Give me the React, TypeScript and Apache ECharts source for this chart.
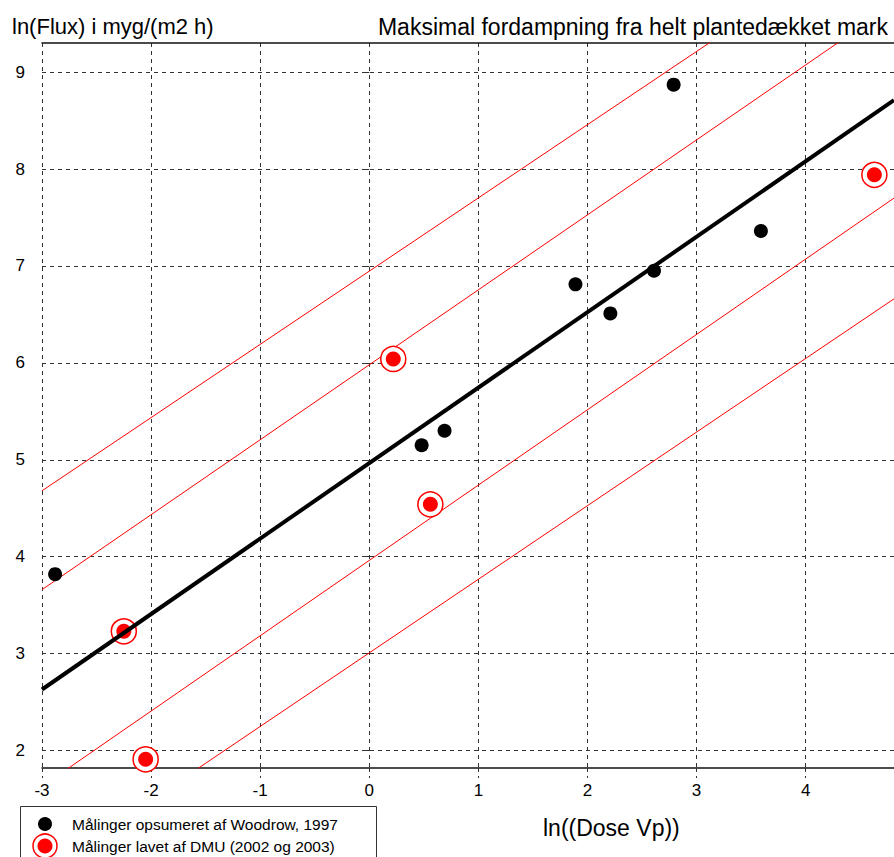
import React, { useEffect, useRef } from "react";
import * as echarts from "echarts";

const xTicks = [-3, -2, -1, 0, 1, 2, 3, 4];
const yTicks = [2, 3, 4, 5, 6, 7, 8, 9];

const woodrow = [
  [-2.88, 3.82],
  [0.48, 5.15],
  [0.69, 5.3],
  [1.89, 6.81],
  [2.21, 6.51],
  [2.61, 6.95],
  [2.79, 8.87],
  [3.59, 7.36],
];

const dmu = [
  [-2.25, 3.23],
  [-2.05, 1.91],
  [0.22, 6.04],
  [0.56, 4.54],
  [4.63, 7.94],
];

const regression = [
  [-3, 2.63],
  [4.81, 8.71],
];

const bandUpper2 = [
  [-3, 4.68],
  [4.81, 10.58],
];
const bandUpper1 = [
  [-3, 3.66],
  [4.81, 9.7],
];
const bandLower1 = [
  [-3, 1.63],
  [4.81, 7.7],
];
const bandLower2 = [
  [-3, 0.73],
  [4.81, 6.66],
];

const titleLeft = "ln(Flux) i myg/(m2 h)";
const titleRight = "Maksimal fordampning fra helt plantedækket mark";
const xName = "ln((Dose Vp))";
const legendWoodrow = "Målinger opsumeret af Woodrow, 1997";
const legendDmu = "Målinger lavet af DMU (2002 og 2003)";

const FONT = "'Liberation Sans', Arial, sans-serif";

export default function App() {
  const ref = useRef<HTMLDivElement>(null);

  useEffect(() => {
    if (!ref.current) return;
    const chart = echarts.init(ref.current, null, { renderer: "svg" });
    const gridDash = { color: "#333", width: 1, type: [4, 4] as any };
    const redLine = (data: number[][]) => ({
      type: "line",
      data,
      showSymbol: false,
      symbol: "none",
      lineStyle: { color: "#ff0000", width: 1 },
      silent: true,
      z: 2,
    });
    chart.setOption({
      animation: false,
      backgroundColor: "#fff",
      title: [
        {
          text: titleLeft,
          left: 12,
          top: 15,
          padding: 0,
          textStyle: { fontSize: 22, fontWeight: "normal", color: "#000", fontFamily: FONT },
        },
        {
          text: titleRight,
          right: 6,
          top: 15,
          padding: 0,
          textStyle: { fontSize: 23, fontWeight: "normal", color: "#000", fontFamily: FONT },
        },
        {
          text: xName,
          left: 543,
          top: 816,
          padding: 0,
          textStyle: { fontSize: 23, fontWeight: "normal", color: "#000", fontFamily: FONT },
        },
      ],
      grid: { left: 42, top: 43, width: 852, height: 725, containLabel: false },
      xAxis: [
        {
          type: "value",
          min: -3,
          max: 4.81,
          interval: 1,
          position: "bottom",
          axisLine: { show: true, onZero: false, lineStyle: { color: "#111", width: 1.5 } },
          axisTick: {
            show: true,
            inside: false,
            length: 10,
            customValues: xTicks,
            lineStyle: { color: "#333", width: 1, type: [4, 4] as any },
          },
          axisLabel: {
            customValues: xTicks,
            margin: 14,
            fontSize: 17,
            color: "#000",
            fontFamily: FONT,
          },
          splitLine: { show: true, lineStyle: gridDash },
        },
        {
          type: "value",
          min: -3,
          max: 4.81,
          position: "top",
          axisLine: { show: true, onZero: false, lineStyle: { color: "#111", width: 1.5 } },
          axisTick: { show: false },
          axisLabel: { show: false },
          splitLine: { show: false },
        },
      ],
      yAxis: {
        type: "value",
        min: 1.82,
        max: 9.3,
        axisLine: { show: false },
        axisTick: {
          show: true,
          inside: false,
          length: 7,
          customValues: yTicks,
          lineStyle: { color: "#333", width: 1, type: [4, 4] as any },
        },
        axisLabel: {
          customValues: yTicks,
          margin: 17,
          fontSize: 17,
          color: "#000",
          fontFamily: FONT,
        },
        splitLine: { show: true, lineStyle: gridDash },
      },
      series: [
        redLine(bandUpper2),
        redLine(bandUpper1),
        redLine(bandLower1),
        redLine(bandLower2),
        {
          type: "scatter",
          data: dmu,
          symbol: "circle",
          symbolSize: 25,
          itemStyle: { color: "#ffffff", borderColor: "#ff0000", borderWidth: 1.5, opacity: 1 },
          z: 3,
        },
        {
          type: "scatter",
          data: dmu,
          symbol: "circle",
          symbolSize: 15,
          itemStyle: { color: "#ff0000", opacity: 1 },
          z: 4,
        },
        {
          type: "line",
          data: regression,
          showSymbol: false,
          symbol: "none",
          lineStyle: { color: "#000", width: 4 },
          z: 5,
        },
        {
          type: "scatter",
          data: woodrow,
          symbol: "circle",
          symbolSize: 14,
          itemStyle: { color: "#000", opacity: 1 },
          z: 6,
        },
      ],
      graphic: [
        {
          type: "rect",
          shape: { x: 20.5, y: 806.5, width: 356, height: 60 },
          style: { fill: "#fff", stroke: "#333", lineWidth: 1 },
          z: 10,
        },
        {
          type: "circle",
          shape: { cx: 45, cy: 824, r: 7 },
          style: { fill: "#000" },
          z: 11,
        },
        {
          type: "circle",
          shape: { cx: 45, cy: 846, r: 12 },
          style: { fill: "#fff", stroke: "#ff0000", lineWidth: 1.5 },
          z: 11,
        },
        {
          type: "circle",
          shape: { cx: 45, cy: 846, r: 7.5 },
          style: { fill: "#ff0000" },
          z: 12,
        },
        {
          type: "text",
          x: 72,
          y: 824,
          style: {
            text: legendWoodrow,
            font: `15.5px ${FONT}`,
            fill: "#000",
            textAlign: "left",
            textVerticalAlign: "middle",
          },
          z: 12,
        },
        {
          type: "text",
          x: 72,
          y: 846,
          style: {
            text: legendDmu,
            font: `15.5px ${FONT}`,
            fill: "#000",
            textAlign: "left",
            textVerticalAlign: "middle",
          },
          z: 12,
        },
      ],
    });
    return () => chart.dispose();
  }, []);

  return (
    <div
      ref={ref}
      style={{ position: "fixed", left: 0, top: 0, width: 894, height: 857, background: "#fff" }}
    />
  );
}
